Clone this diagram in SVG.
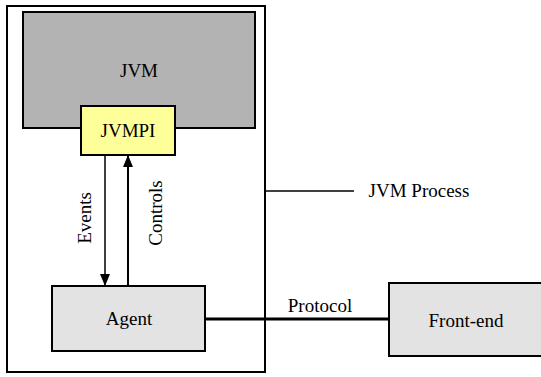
<svg xmlns="http://www.w3.org/2000/svg" width="541" height="377" viewBox="0 0 541 377">
  <style>
    .box { stroke: #000; stroke-width: 2; }
    .lbl { font-family: "Liberation Serif", "Times New Roman", serif; font-size: 19px; fill: #000; text-anchor: middle; }
    .wire { stroke: #000; fill: none; }
  </style>
  <defs>
    <marker id="arrow" markerWidth="12" markerHeight="10" refX="11" refY="5" orient="auto" markerUnits="userSpaceOnUse">
      <path d="M0,0 L12,5 L0,10 Z" fill="#000"/>
    </marker>
  </defs>
  <rect width="541" height="377" fill="#fff"/>

  <g id="process">
    <rect x="7" y="6" width="258" height="366" fill="#fff" class="box"/>
  </g>

  <g id="jvm">
    <rect x="23" y="12" width="232" height="116" fill="#b3b3b3" class="box"/>
    <text x="139" y="77" class="lbl">JVM</text>
  </g>

  <g id="jvmpi">
    <rect x="81" y="106" width="94" height="49" fill="#ffff99" class="box"/>
    <text x="128" y="137" class="lbl">JVMPI</text>
  </g>

  <g id="agent">
    <rect x="52" y="286" width="153" height="65" fill="#e3e3e3" class="box"/>
    <text x="129" y="325" class="lbl">Agent</text>
  </g>

  <g id="frontend">
    <rect x="389" y="283" width="160" height="73" fill="#e3e3e3" class="box"/>
    <text x="466" y="327" class="lbl">Front-end</text>
  </g>

  <g id="connectors">
    <line x1="105" y1="155" x2="105" y2="285" class="wire" stroke-width="1.5" marker-end="url(#arrow)"/>
    <line x1="128" y1="286" x2="128" y2="156" class="wire" stroke-width="2" marker-end="url(#arrow)"/>
    <line x1="205" y1="319" x2="389" y2="319" class="wire" stroke-width="3"/>
    <line x1="265" y1="191" x2="354" y2="191" class="wire" stroke-width="1.5"/>
  </g>

  <g id="labels">
    <text transform="translate(91,218) rotate(-90)" class="lbl">Events</text>
    <text transform="translate(162,213) rotate(-90)" class="lbl">Controls</text>
    <text x="320" y="312" class="lbl">Protocol</text>
    <text x="419" y="197" class="lbl">JVM Process</text>
  </g>
</svg>
